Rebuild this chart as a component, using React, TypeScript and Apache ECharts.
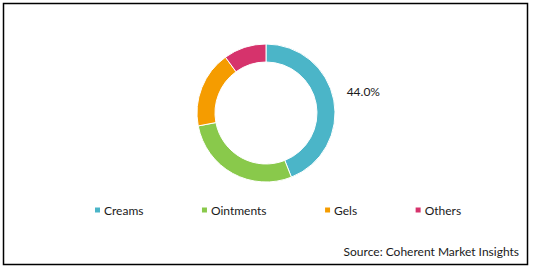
import React, { useEffect, useRef } from "react";
import * as echarts from "echarts";

const categories = ["Creams", "Ointments", "Gels", "Others"];
const shares = [44, 28, 18, 10];
const colors = ["#4bb5c8", "#89c94b", "#f59c00", "#d6336c"];
const sourceText = "Source: Coherent Market Insights";
const FONT = "Lato";

export default function App() {
  const ref = useRef<HTMLDivElement>(null);
  useEffect(() => {
    document.body.style.margin = "0";
    const chart = echarts.init(ref.current!, null, { renderer: "svg" });
    chart.setOption({
      animation: false,
      backgroundColor: "#ffffff",
      color: colors,
      textStyle: { fontFamily: FONT },
      legend: {
        data: categories,
        left: 93,
        top: 204,
        padding: 0,
        itemWidth: 7,
        itemHeight: 7,
        itemGap: 56.5,
        icon: "rect",
        textStyle: { fontFamily: FONT, fontSize: 12, color: "#1a1a1a", padding: [0, 0, 0, -2] },
      },
      graphic: [
        {
          type: "rect",
          shape: { x: 3.5, y: 3.5, width: 524, height: 261 },
          style: { fill: "none", stroke: "#000", lineWidth: 1.5 },
        },
        {
          type: "text",
          right: 14,
          top: 245,
          style: { text: sourceText, font: `12px ${FONT}`, fill: "#1a1a1a" },
        },
      ],
      series: [
        {
          type: "pie",
          center: [266, 113],
          radius: [51, 69],
          startAngle: 90,
          clockwise: true,
          itemStyle: { borderColor: "#fff", borderWidth: 1 },
          label: {
            show: true,
            position: "outside",
            fontFamily: FONT,
            fontSize: 12,
            color: "#1a1a1a",
            formatter: (p: any) => (p.dataIndex === 0 ? p.value.toFixed(1) + "%" : ""),
          },
          labelLine: { show: false, length: 8, length2: 0 },
          labelLayout: { dy: -7 },
          emphasis: { disabled: true },
          data: categories.map((c, i) => ({ name: c, value: shares[i] })),
        },
      ],
    });
    return () => chart.dispose();
  }, []);
  return (
    <div
      ref={ref}
      style={{ position: "absolute", left: 0, top: 0, width: 533, height: 270 }}
    />
  );
}
